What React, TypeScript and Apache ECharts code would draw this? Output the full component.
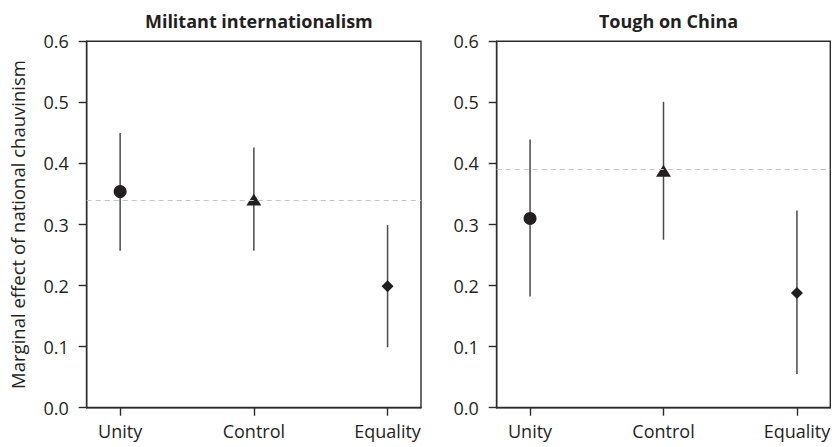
import React, { useEffect, useRef } from "react";
import * as echarts from "echarts";

const categories = ["Unity", "Control", "Equality"];
const categoryPositions = [1, 2, 3];
const symbols = ["circle", "triangle", "diamond"];
const symbolSizes: [number, number][] = [[13, 13], [15, 12], [12, 12]];

const panelTitles = ["Militant internationalism", "Tough on China"];

const militantEst = [0.354, 0.341, 0.199];
const militantLow = [0.257, 0.257, 0.099];
const militantHigh = [0.45, 0.426, 0.299];

const chinaEst = [0.31, 0.388, 0.188];
const chinaLow = [0.182, 0.275, 0.055];
const chinaHigh = [0.439, 0.501, 0.323];

const yAxisName = "Marginal effect of national chauvinism";

const FONT = "'Open Sans', 'Liberation Sans', sans-serif";
const INK = "#231f20";

export default function App() {
  const ref = useRef<HTMLDivElement>(null);

  useEffect(() => {
    if (!ref.current) return;
    const chart = echarts.init(ref.current, null, { renderer: "svg" });

    const grids = [
      { left: 86.7, top: 41.3, width: 334.3, height: 366.4 },
      { left: 496.7, top: 41.3, width: 333.6, height: 366.4 },
    ];

    const panels = [
      { est: militantEst, low: militantLow, high: militantHigh },
      { est: chinaEst, low: chinaLow, high: chinaHigh },
    ];

    const xAxes = grids.map((_, i) => ({
      type: "value",
      gridIndex: i,
      min: 0.75,
      max: 3.25,
      splitLine: { show: false },
      axisLine: { show: true, lineStyle: { color: "#2b2b2b", width: 1.4 } },
      axisTick: {
        show: true,
        customValues: categoryPositions,
        length: 8,
        lineStyle: { color: "#2b2b2b", width: 1.4 },
      },
      axisLabel: {
        customValues: categoryPositions,
        formatter: (v: number) => categories[Math.round(v) - 1] ?? "",
        color: INK,
        fontFamily: FONT,
        fontSize: 18,
        margin: 14,
      },
    }));

    const yAxes = grids.map((_, i) => ({
      type: "value",
      gridIndex: i,
      min: 0,
      max: 0.6,
      interval: 0.1,
      name: i === 0 ? yAxisName : "",
      nameLocation: "middle",
      nameGap: 60,
      nameTextStyle: { color: INK, fontFamily: FONT, fontSize: 18.5 },
      splitLine: { show: false },
      axisLine: { show: true, lineStyle: { color: "#2b2b2b", width: 1.4 } },
      axisTick: { show: true, length: 8, lineStyle: { color: "#2b2b2b", width: 1.4 } },
      axisLabel: {
        formatter: (v: number) => v.toFixed(1),
        color: INK,
        fontFamily: FONT,
        fontSize: 18,
        margin: 18,
      },
    }));

    const series: any[] = [];
    panels.forEach((p, i) => {
      series.push({
        type: "custom",
        xAxisIndex: i,
        yAxisIndex: i,
        z: 2,
        data: categoryPositions.map((x, k) => [x, p.low[k], p.high[k]]),
        encode: { x: 0, y: [1, 2] },
        renderItem: (_params: any, api: any) => {
          const x = api.value(0);
          const lo = api.coord([x, api.value(1)]);
          const hi = api.coord([x, api.value(2)]);
          return {
            type: "line",
            shape: { x1: lo[0], y1: lo[1], x2: hi[0], y2: hi[1] },
            style: { stroke: "#4a4a4a", lineWidth: 1.5 },
          };
        },
      });
      series.push({
        type: "scatter",
        xAxisIndex: i,
        yAxisIndex: i,
        z: 3,
        data: categoryPositions.map((x, k) => ({
          value: [x, p.est[k]],
          symbol: symbols[k],
          symbolSize: symbolSizes[k],
        })),
        itemStyle: { color: INK, opacity: 1 },
      });
      series.push({
        type: "line",
        xAxisIndex: i,
        yAxisIndex: i,
        z: 4,
        data: [],
        markLine: {
          silent: true,
          symbol: "none",
          label: { show: false },
          lineStyle: { color: "#c4c4c4", type: [5, 4], width: 1.2 },
          data: [{ yAxis: p.est[1] }],
        },
      });
    });

    chart.setOption({
      animation: false,
      backgroundColor: "#ffffff",
      title: grids.map((g, i) => ({
        text: panelTitles[i],
        left: g.left + g.width / 2,
        textAlign: "center",
        top: 7,
        textStyle: { color: INK, fontFamily: FONT, fontSize: 18, fontWeight: "bold" },
      })),
      grid: grids.map((g) => ({
        ...g,
        show: true,
        borderColor: "#2b2b2b",
        borderWidth: 1.4,
        containLabel: false,
      })),
      xAxis: xAxes,
      yAxis: yAxes,
      series,
    });

    return () => chart.dispose();
  }, []);

  return (
    <div
      ref={ref}
      style={{ position: "fixed", left: 0, top: 0, width: 836, height: 447 }}
    />
  );
}
